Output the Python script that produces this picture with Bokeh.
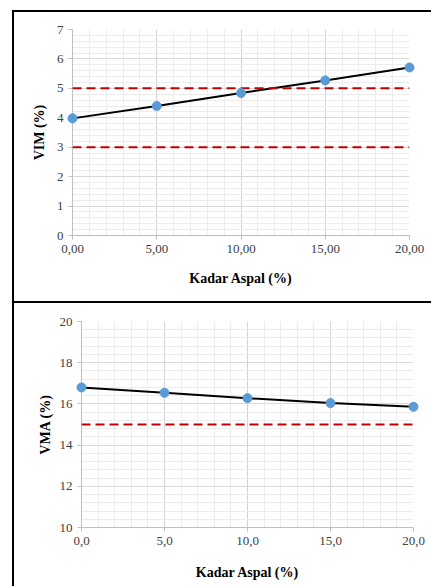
from bokeh.plotting import figure
from bokeh.layouts import column, row
from bokeh.models import SingleIntervalTicker, Span, Range1d, Div
from bokeh.embed import file_html
from bokeh.resources import INLINE

# ---- data ----
kadar = [0, 5, 10, 15, 20]
vim = [3.98, 4.40, 4.84, 5.27, 5.71]
vma = [16.80, 16.54, 16.28, 16.04, 15.86]
vim_limits = [3, 5]
vma_limits = [15]
x_ticks = [0, 5, 10, 15, 20]
x_labels_top = ["0,00", "5,00", "10,00", "15,00", "20,00"]
x_labels_bottom = ["0,0", "5,0", "10,0", "15,0", "20,0"]
vim_range = [0, 7]
vma_range = [10, 20]
x_title = "Kadar Aspal (%)"

FONT = "Liberation Serif"


def panel(yvals, yrange, yint, ylabel, xlabels, limits, width, height,
          mb_left, mb_top, mb_bottom, mb_right, ystandoff, xstandoff):
    p = figure(width=width, height=height, output_backend="svg",
               toolbar_location=None, x_range=Range1d(0, 20),
               y_range=Range1d(*yrange),
               min_border_left=mb_left, min_border_top=mb_top,
               min_border_bottom=mb_bottom, min_border_right=mb_right)
    p.outline_line_color = None
    p.background_fill_color = "white"
    p.border_fill_color = "white"

    p.xaxis.ticker = SingleIntervalTicker(interval=5, num_minor_ticks=5)
    p.yaxis.ticker = SingleIntervalTicker(interval=yint, num_minor_ticks=5)
    p.xaxis.major_label_overrides = {t: l for t, l in zip(x_ticks, xlabels)}

    p.xgrid.grid_line_color = "#d4d4d4"
    p.ygrid.grid_line_color = "#d9d9d9"
    p.xgrid.minor_grid_line_color = "#ececec"
    p.ygrid.minor_grid_line_color = "#ececec"

    for ax in (p.xaxis, p.yaxis):
        ax.axis_line_color = "#bfbfbf"
        ax.major_tick_line_color = "#bfbfbf"
        ax.major_tick_in = 0
        ax.major_tick_out = 4
        ax.minor_tick_line_color = None
        ax.major_label_text_font = FONT
        ax.major_label_text_font_size = "13px"
        ax.major_label_text_color = "#404040"
        ax.axis_label_text_font = FONT
        ax.axis_label_text_font_size = "14px"
        ax.axis_label_text_font_style = "bold"
        ax.axis_label_text_color = "black"
    p.xaxis.axis_label = x_title
    p.yaxis.axis_label = ylabel
    p.xaxis.major_label_standoff = 5
    p.yaxis.major_label_standoff = 5
    p.xaxis.axis_label_standoff = xstandoff
    p.yaxis.axis_label_standoff = ystandoff

    for lim in limits:
        p.add_layout(Span(location=lim, dimension="width", line_color="#c00000",
                          line_width=2, line_dash="9 5"))

    p.line(kadar, yvals, line_color="black", line_width=2)
    p.scatter(kadar, yvals, size=9, fill_color="#5b9bd5", line_color="#5b9bd5",
              level="overlay")
    return p


def bar(w, h):
    return Div(width=w, height=h, margin=0,
               styles={"background-color": "black"})


p1 = panel(vim, vim_range, 1, "VIM (%)", x_labels_top, vim_limits,
           width=417, height=289, mb_left=58, mb_top=17, mb_bottom=66,
           mb_right=22, ystandoff=7, xstandoff=15)
p2 = panel(vma, vma_range, 2, "VMA (%)", x_labels_bottom, vma_limits,
           width=417, height=283, mb_left=67, mb_top=18, mb_bottom=59,
           mb_right=18, ystandoff=4, xstandoff=17)

layout = column(
    bar(419, 2),
    row(bar(2, 289), p1, spacing=0),
    bar(419, 2),
    row(bar(2, 283), p2, spacing=0),
    spacing=0, margin=(10, 0, 0, 12))

open("out.html", "w").write(file_html(layout, INLINE))
